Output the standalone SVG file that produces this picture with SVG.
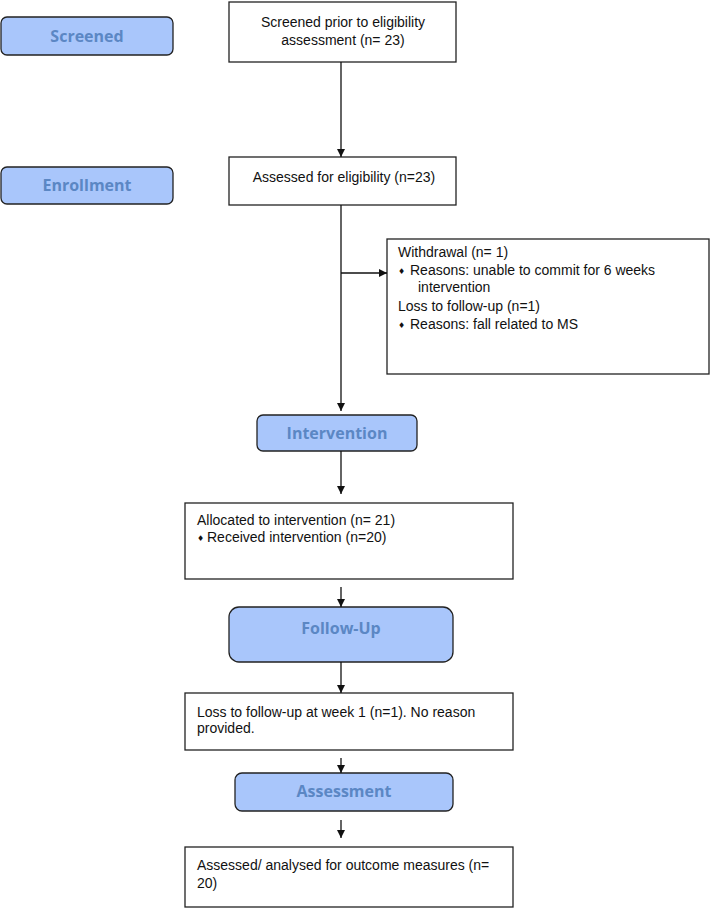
<svg xmlns="http://www.w3.org/2000/svg" width="712" height="910" viewBox="0 0 712 910">
<style>
.stage{fill:#a9c6fb;stroke:#222;stroke-width:1.3}
.stl{font-family:"Open Sans","DejaVu Sans",sans-serif;font-weight:bold;font-size:16px;fill:#5b87c4;text-anchor:middle}
.box{fill:#fff;stroke:#222;stroke-width:1.3}
.t{font-family:"Liberation Sans",Arial,sans-serif;font-size:14px;fill:#111}
.c{text-anchor:middle}
.b{font-family:"DejaVu Sans",sans-serif;font-size:8px;fill:#111}
.ln{stroke:#111;stroke-width:1.3;fill:none}
</style>
<defs>
<marker id="ah" viewBox="0 0 10 10" refX="10" refY="5" markerWidth="8" markerHeight="8" markerUnits="userSpaceOnUse" orient="auto">
<path d="M0,0 L10,5 L0,10 Z" fill="#111"/>
</marker>
</defs>
<rect width="712" height="910" fill="#fff"/>
<g id="stage-screened"><rect class="stage" x="1" y="17" width="172" height="38" rx="6"/><text class="stl" x="87" y="42">Screened</text></g>
<g id="stage-enrollment"><rect class="stage" x="1" y="167" width="172" height="37" rx="6"/><text class="stl" x="87" y="191">Enrollment</text></g>
<g id="node-screened"><rect class="box" x="229" y="2" width="227" height="60"/><text class="t c" x="343" y="27">Screened prior to eligibility</text><text class="t c" x="343" y="45">assessment (n= 23)</text></g>
<g id="node-assessed"><rect class="box" x="229" y="157" width="227" height="48"/><text class="t c" x="344" y="182">Assessed for eligibility (n=23)</text></g>
<g id="node-withdrawal"><rect class="box" x="387" y="239" width="322" height="135"/>
<text class="t" x="398" y="257">Withdrawal (n= 1)</text>
<text class="b" x="398" y="274">♦</text><text class="t" x="410" y="275">Reasons: unable to commit for 6 weeks</text>
<text class="t" x="418" y="292">intervention</text>
<text class="t" x="398" y="311">Loss to follow-up (n=1)</text>
<text class="b" x="398" y="328">♦</text><text class="t" x="410" y="329">Reasons: fall related to MS</text>
</g>
<g id="stage-intervention"><rect class="stage" x="257" y="415" width="160" height="36" rx="6"/><text class="stl" x="337" y="439">Intervention</text></g>
<g id="node-allocated"><rect class="box" x="185" y="503" width="328" height="76"/>
<text class="t" x="197" y="525">Allocated to intervention (n= 21)</text>
<text class="b" x="197" y="541">♦</text><text class="t" x="207" y="542">Received intervention (n=20)</text>
</g>
<g id="stage-followup"><rect class="stage" x="229" y="607" width="224" height="55" rx="10"/><text class="stl" x="341" y="634">Follow-Up</text></g>
<g id="node-loss"><rect class="box" x="185" y="693" width="328" height="57"/>
<text class="t" x="197" y="717">Loss to follow-up at week 1 (n=1). No reason</text>
<text class="t" x="197" y="733">provided.</text>
</g>
<g id="stage-assessment"><rect class="stage" x="235" y="773" width="218" height="38" rx="7"/><text class="stl" x="344" y="797">Assessment</text></g>
<g id="node-analysed"><rect class="box" x="185" y="847" width="328" height="60"/>
<text class="t" x="197" y="870">Assessed/ analysed for outcome measures (n=</text>
<text class="t" x="197" y="888">20)</text>
</g>
<g id="connectors">
<line class="ln" x1="341" y1="62" x2="341" y2="157" marker-end="url(#ah)"/>
<line class="ln" x1="341" y1="205" x2="341" y2="411" marker-end="url(#ah)"/>
<line class="ln" x1="341" y1="273" x2="387" y2="273" marker-end="url(#ah)"/>
<line class="ln" x1="341" y1="451" x2="341" y2="494" marker-end="url(#ah)"/>
<line class="ln" x1="341" y1="587" x2="341" y2="607" marker-end="url(#ah)"/>
<line class="ln" x1="341" y1="662" x2="341" y2="693" marker-end="url(#ah)"/>
<line class="ln" x1="341" y1="758" x2="341" y2="773" marker-end="url(#ah)"/>
<line class="ln" x1="341" y1="820" x2="341" y2="838" marker-end="url(#ah)"/>
</g>
</svg>
